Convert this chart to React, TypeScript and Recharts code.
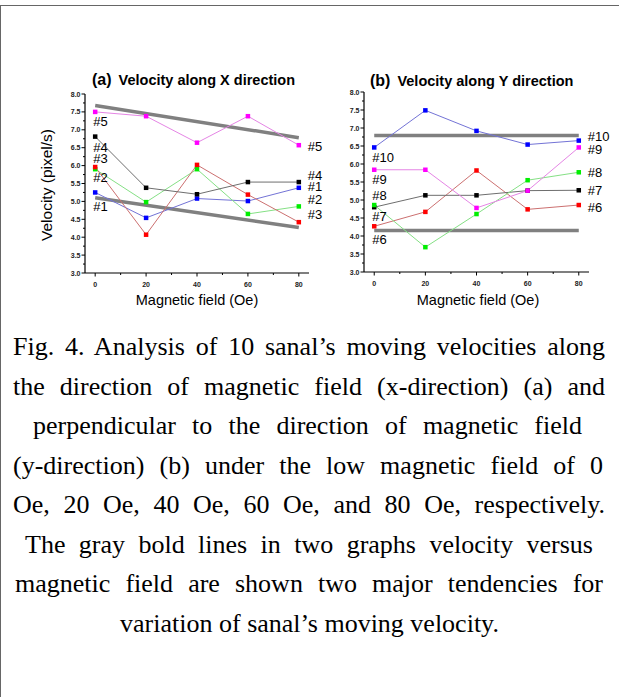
import { Line, LineChart, XAxis, YAxis } from "recharts"

const FIELD = [0, 20, 40, 60, 80]

// (a) velocity along X direction
const V1 = [5.25, 4.54, 5.08, 5.01, 5.38]
const V2 = [5.9, 4.98, 5.9, 4.65, 4.86]
const V3 = [5.96, 4.07, 6.02, 5.19, 4.42]
const V4 = [6.81, 5.38, 5.2, 5.54, 5.54]
const V5 = [7.5, 7.38, 6.64, 7.38, 6.57]
const TREND_X_UPPER = [7.68, 6.78]
const TREND_X_LOWER = [5.1, 4.27]

// (b) velocity along Y direction
const V6 = [4.27, 4.67, 5.82, 4.74, 4.86]
const V7 = [4.8, 5.13, 5.13, 5.26, 5.27]
const V8 = [4.86, 3.69, 4.61, 5.55, 5.77]
const V9 = [5.84, 5.84, 4.78, 5.26, 6.46]
const V10 = [6.46, 7.49, 6.92, 6.54, 6.65]
const TREND_Y_UPPER = [6.79, 6.79]
const TREND_Y_LOWER = [4.15, 4.15]

const TREND_FIELD = [0, 80]
const X_TICKS = [0, 10, 20, 30, 40, 50, 60, 70, 80]
const Y_TICKS = [3, 3.25, 3.5, 3.75, 4, 4.25, 4.5, 4.75, 5, 5.25, 5.5, 5.75, 6, 6.25, 6.5, 6.75, 7, 7.25, 7.5, 7.75, 8]

const CAPTION = [
  "Fig. 4. Analysis of 10 sanal\u2019s moving velocities along",
  "the direction of magnetic field (x-direction) (a) and",
  "perpendicular to the direction of magnetic field",
  "(y-direction) (b) under the low magnetic field of 0",
  "Oe, 20 Oe, 40 Oe, 60 Oe, and 80 Oe, respectively.",
  "The gray bold lines in two graphs velocity versus",
  "magnetic field are shown two major tendencies for",
  "variation of sanal\u2019s moving velocity.",
]

const SANS = "'Liberation Sans', Arial, sans-serif"

interface SeriesStyle {
  key: string
  label: string
  line: string
  marker: string
  leftDy: number
  rightDy: number
}

const X_SERIES: SeriesStyle[] = [
  { key: "v1", label: "#1", line: "#7373d6", marker: "#0000ff", leftDy: 14, rightDy: -1 },
  { key: "v2", label: "#2", line: "#85e085", marker: "#00ee00", leftDy: 8, rightDy: -6.5 },
  { key: "v3", label: "#3", line: "#cc7070", marker: "#ff0000", leftDy: -8.5, rightDy: -8 },
  { key: "v4", label: "#4", line: "#6e6e6e", marker: "#000000", leftDy: 10.5, rightDy: -7 },
  { key: "v5", label: "#5", line: "#e585e5", marker: "#ff00ff", leftDy: 10, rightDy: 1 },
]

const Y_SERIES: SeriesStyle[] = [
  { key: "v6", label: "#6", line: "#cc7070", marker: "#ff0000", leftDy: 13.5, rightDy: 2 },
  { key: "v7", label: "#7", line: "#6e6e6e", marker: "#000000", leftDy: 9.3, rightDy: 0 },
  { key: "v8", label: "#8", line: "#85e085", marker: "#00ee00", leftDy: -10, rightDy: 0 },
  { key: "v9", label: "#9", line: "#e585e5", marker: "#ff00ff", leftDy: 9.4, rightDy: 2 },
  { key: "v10", label: "#10", line: "#7373d6", marker: "#0000ff", leftDy: 10, rightDy: -4 },
]

const xRows = FIELD.map((field, i) => ({
  field,
  v1: V1[i],
  v2: V2[i],
  v3: V3[i],
  v4: V4[i],
  v5: V5[i],
}))

const yRows = FIELD.map((field, i) => ({
  field,
  v6: V6[i],
  v7: V7[i],
  v8: V8[i],
  v9: V9[i],
  v10: V10[i],
}))

const trendRows = (vals: number[]) =>
  TREND_FIELD.map((field, i) => ({ field, v: vals[i] }))

function YTick(props: any) {
  const { x, y, payload } = props
  const v = payload.value as number
  const major = Math.abs(v * 2 - Math.round(v * 2)) < 1e-6
  return (
    <g>
      <line x1={x - (major ? 3.5 : 2)} x2={x} y1={y} y2={y} stroke="#000" strokeWidth={1} />
      {major && (
        <text
          x={x - 4.5}
          y={y}
          textAnchor="end"
          dominantBaseline="central"
          fontSize={7}
          fontWeight="bold"
          fontFamily={SANS}
          fill="#222"
        >
          {v.toFixed(1)}
        </text>
      )}
    </g>
  )
}

function XTick(props: any) {
  const { x, y, payload } = props
  const v = payload.value as number
  const major = v % 20 === 0
  return (
    <g>
      <line x1={x} x2={x} y1={y} y2={y + (major ? 3.5 : 2)} stroke="#000" strokeWidth={1} />
      {major && (
        <text
          x={x}
          y={y + 11}
          textAnchor="middle"
          dominantBaseline="central"
          fontSize={7}
          fontWeight="bold"
          fontFamily={SANS}
          fill="#222"
        >
          {v}
        </text>
      )}
    </g>
  )
}

function makeDot(s: SeriesStyle) {
  return (props: any) => {
    const { cx, cy, index } = props
    if (cx == null || cy == null) return <g key={`d-${s.key}-${index}`} />
    const last = index === FIELD.length - 1
    return (
      <g key={`d-${s.key}-${index}`}>
        <rect x={cx - 2.25} y={cy - 2.25} width={4.5} height={4.5} fill={s.marker} />
        {(index === 0 || last) && (
          <text
            x={index === 0 ? cx - 2 : cx + 9}
            y={cy + (index === 0 ? s.leftDy : s.rightDy)}
            dominantBaseline="central"
            fontSize={13}
            fontFamily={SANS}
            fill="#000"
          >
            {s.label}
          </text>
        )}
      </g>
    )
  }
}

interface PanelProps {
  rows: any[]
  series: SeriesStyle[]
  upper: number[]
  lower: number[]
  width: number
  height: number
  margin: { top: number; left: number; right: number; bottom: number }
}

function Panel({ rows, series, upper, lower, width, height, margin }: PanelProps) {
  return (
    <LineChart width={width} height={height} data={rows} margin={margin} style={{ overflow: "visible" }}>
      <XAxis
        type="number"
        dataKey="field"
        domain={[-4, 84]}
        ticks={X_TICKS}
        interval={0}
        tickSize={0}
        tickMargin={0}
        tickLine={false}
        tick={<XTick />}
        axisLine={{ stroke: "#000", strokeWidth: 1.2 }}
        height={37}
      />
      <YAxis
        type="number"
        domain={[3, 8]}
        ticks={Y_TICKS}
        interval={0}
        tickSize={0}
        tickMargin={0}
        tickLine={false}
        tick={<YTick />}
        axisLine={{ stroke: "#000", strokeWidth: 1.2 }}
        width={30}
      />
      <Line
        data={trendRows(upper)}
        dataKey="v"
        stroke="#808080"
        strokeWidth={3.5}
        dot={false}
        activeDot={false}
        isAnimationActive={false}
      />
      <Line
        data={trendRows(lower)}
        dataKey="v"
        stroke="#808080"
        strokeWidth={3.5}
        dot={false}
        activeDot={false}
        isAnimationActive={false}
      />
      {series.map((s) => (
        <Line
          key={s.key}
          dataKey={s.key}
          stroke={s.line}
          strokeWidth={1}
          dot={makeDot(s)}
          activeDot={false}
          isAnimationActive={false}
        />
      ))}
    </LineChart>
  )
}

const abs = (left: number, top: number): React.CSSProperties => ({
  position: "absolute",
  left,
  top,
})

function Title({ left, top, tag, text }: { left: number; top: number; tag: string; text: string }) {
  return (
    <div style={{ ...abs(left, top), fontFamily: SANS, whiteSpace: "nowrap", color: "#000", lineHeight: "18px" }}>
      <span style={{ fontSize: 16, fontWeight: "bold" }}>{tag}</span>
      <span style={{ fontSize: 14.5, fontWeight: "bold", marginLeft: 7 }}>{text}</span>
    </div>
  )
}

function AxisTitle({ cx, cy, text, rotate }: { cx: number; cy: number; text: string; rotate?: boolean }) {
  return (
    <div
      style={{
        ...abs(cx, cy),
        transform: `translate(-50%, -50%)${rotate ? " rotate(-90deg)" : ""}`,
        fontFamily: SANS,
        fontSize: rotate ? 15.5 : 14.5,
        whiteSpace: "nowrap",
        lineHeight: 1,
        color: "#000",
      }}
    >
      {text}
    </div>
  )
}

const CAPTION_BOXES = [
  [13, 605],
  [13, 605],
  [33, 582],
  [13, 603],
  [13, 605],
  [25, 593],
  [15, 603],
]

export default function App() {
  return (
    <div
      style={{
        position: "absolute",
        left: 0,
        top: 0,
        width: 619,
        height: 697,
        background: "#fff",
        overflow: "hidden",
      }}
    >
      <div style={{ ...abs(0, 5), width: 619, height: 0, borderTop: "1.5px solid #666" }} />
      <div style={{ ...abs(0, 5), width: 0, height: 692, borderLeft: "1.5px solid #666" }} />

      <div style={abs(0, 0)}>
        <Panel
          rows={xRows}
          series={X_SERIES}
          upper={TREND_X_UPPER}
          lower={TREND_X_LOWER}
          width={340}
          height={310}
          margin={{ top: 94, left: 55, right: 31, bottom: 0 }}
        />
      </div>
      <div style={abs(280, 0)}>
        <Panel
          rows={yRows}
          series={Y_SERIES}
          upper={TREND_Y_UPPER}
          lower={TREND_Y_LOWER}
          width={339}
          height={309}
          margin={{ top: 92, left: 54, right: 30, bottom: 0 }}
        />
      </div>

      <Title left={92} top={71} tag="(a)" text="Velocity along X direction" />
      <Title left={370} top={72} tag="(b)" text="Velocity along Y direction" />
      <AxisTitle cx={47} cy={185} text="Velocity (pixel/s)" rotate />
      <AxisTitle cx={197} cy={300} text="Magnetic field (Oe)" />
      <AxisTitle cx={478} cy={300} text="Magnetic field (Oe)" />

      <div style={{ ...abs(0, 327), width: 619, fontFamily: "'Liberation Serif', 'Times New Roman', serif", fontSize: 26, lineHeight: "39.5px", color: "#000" }}>
        {CAPTION.map((line, i) => {
          const box = CAPTION_BOXES[i]
          if (!box) {
            return (
              <div key={i} style={{ textAlign: "center", whiteSpace: "nowrap" }}>
                {line}
              </div>
            )
          }
          return (
            <div
              key={i}
              style={{
                marginLeft: box[0],
                width: box[1] - box[0],
                textAlign: "justify",
                textAlignLast: "justify",
                whiteSpace: "nowrap",
              }}
            >
              {line}
            </div>
          )
        })}
      </div>
    </div>
  )
}
